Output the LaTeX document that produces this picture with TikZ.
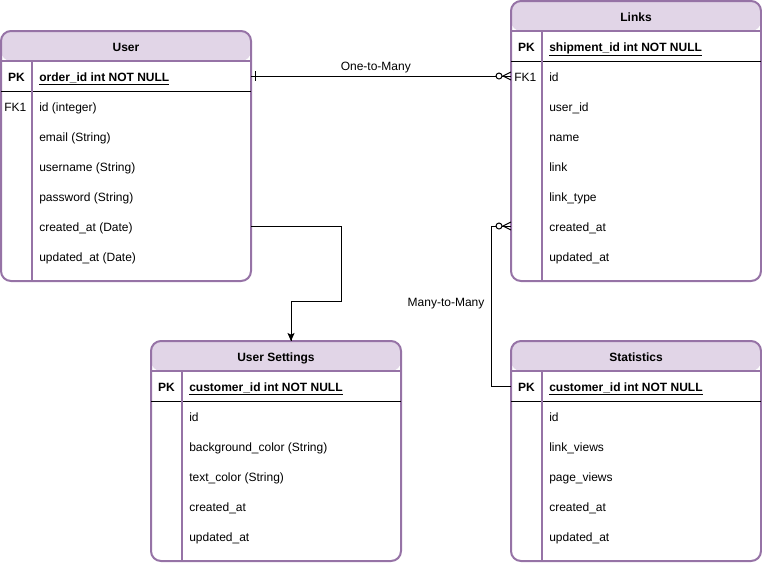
\documentclass[tikz,border=0pt]{standalone}
\usepackage{fontspec}
\setmainfont{Liberation Sans}
\usepackage{xcolor}
\definecolor{colHead}{HTML}{E1D5E7}
\definecolor{colFrame}{HTML}{9673A6}
\usepackage{tikz}
\usetikzlibrary{arrows.meta, positioning, calc}
\tikzset{
	txt/.style={font=\fontsize{9}{11}\selectfont, inner sep=0pt, text height=8.6pt, text depth=0.9pt},
	tblbox/.style={draw=colFrame, line width=1.5pt, fill=white, rounded corners=7.5pt, inner sep=0pt, outer sep=0pt,
		minimum width=187.5pt,
		path picture={\fill[colHead] (path picture bounding box.north west) rectangle ([yshift=-22.5pt]path picture bounding box.north east);}},
	hdrline/.style={line width=1pt, colFrame},
	rowsep/.style={line width=0.75pt, black},
	colsep/.style={line width=1pt, colFrame},
	hdr/.style={txt, font=\fontsize{9}{11}\selectfont\bfseries},
	keycol/.style={txt, font=\fontsize{9}{11}\selectfont\bfseries},
	fkcol/.style={txt, anchor=west},
	field/.style={txt, anchor=west},
	pkfield/.style={field, font=\fontsize{9}{11}\selectfont\bfseries},
	conn/.style={line width=0.75pt, black},
	lbl/.style={txt}
}
\begin{document}
\begin{tikzpicture}[x=0.75pt, y=-0.75pt]
	\useasboundingbox (0,0) rectangle (762,562);
	% User
	\node[tblbox, minimum height=187.5pt] (user-box) at (126,156) {};
	\draw[hdrline] (1,61) -- (251,61);
	\draw[rowsep] (1,91) -- (251,91);
	\draw[colsep] (32,61) -- (32,281);
	\node[hdr] (user) at (126,46) {User};
	\node[keycol] (user-pk) at (16.5,76) {PK};
	\node[pkfield] (user-key) at (39,76) {\underline{order\_id int NOT NULL}};
	\node[fkcol] (user-fk) at (4,106) {FK1};
	\foreach \t [count=\i] in {id (integer), email (String), username (String), password (String), created\_at (Date), updated\_at (Date)}
		\node[field] (user-f\i) at (39,76+30*\i) {\t};
	% Links
	\node[tblbox, minimum height=210pt] (links-box) at (636,141) {};
	\draw[hdrline] (511,31) -- (761,31);
	\draw[rowsep] (511,61) -- (761,61);
	\draw[colsep] (542,31) -- (542,281);
	\node[hdr] (links) at (636,16) {Links};
	\node[keycol] (links-pk) at (526.5,46) {PK};
	\node[pkfield] (links-key) at (549,46) {\underline{shipment\_id int NOT NULL}};
	\node[fkcol] (links-fk) at (514,76) {FK1};
	\foreach \t [count=\i] in {id, user\_id, name, link, link\_type, created\_at, updated\_at}
		\node[field] (links-f\i) at (549,46+30*\i) {\t};
	% User Settings
	\node[tblbox, minimum height=165pt] (uset-box) at (276,451) {};
	\draw[hdrline] (151,371) -- (401,371);
	\draw[rowsep] (151,401) -- (401,401);
	\draw[colsep] (182,371) -- (182,561);
	\node[hdr] (uset) at (276,356) {User Settings};
	\node[keycol] (uset-pk) at (166.5,386) {PK};
	\node[pkfield] (uset-key) at (189,386) {\underline{customer\_id int NOT NULL}};
	\foreach \t [count=\i] in {id, background\_color (String), text\_color (String), created\_at, updated\_at}
		\node[field] (uset-f\i) at (189,386+30*\i) {\t};
	% Statistics
	\node[tblbox, minimum height=165pt] (stats-box) at (636,451) {};
	\draw[hdrline] (511,371) -- (761,371);
	\draw[rowsep] (511,401) -- (761,401);
	\draw[colsep] (542,371) -- (542,561);
	\node[hdr] (stats) at (636,356) {Statistics};
	\node[keycol] (stats-pk) at (526.5,386) {PK};
	\node[pkfield] (stats-key) at (549,386) {\underline{customer\_id int NOT NULL}};
	\foreach \t [count=\i] in {id, link\_views, page\_views, created\_at, updated\_at}
		\node[field] (stats-f\i) at (549,386+30*\i) {\t};
	% relations
	\coordinate (one) at (user-box.east |- user-pk);
	\coordinate (many) at (links-box.west |- links-fk);
	\coordinate (many2) at (links-box.west |- links-f6);
	\draw[conn] (one) -- node[lbl, pos=0.48, above=3pt] (lbl-one) {One-to-Many} (many);
	\draw[conn] (one) ++(4,-5) -- ++(0,10);
	\draw[conn] (user-box.east |- user-f5) -| ++(90,75) -| ([xshift=11.25pt]uset-box.north);
	\draw[conn, -{Stealth[length=6pt, width=5.25pt, inset=1.2pt]}] ([xshift=11.25pt, yshift=15pt]uset-box.north) -- ([xshift=11.25pt]uset-box.north);
	\draw[conn] (stats-box.west |- stats-pk) -- ++(-20,0) |- (many2);
	\node[lbl] (lbl-many) at (446,301) {Many-to-Many};
	\foreach \c in {many, many2} {
		\draw[conn] (\c) ++(0,-4) -- ++(-8,4) -- ++(8,4);
		\draw[conn, fill=white] (\c) ++(-12,0) circle[radius=2.25pt];
	}
\end{tikzpicture}
\end{document}
